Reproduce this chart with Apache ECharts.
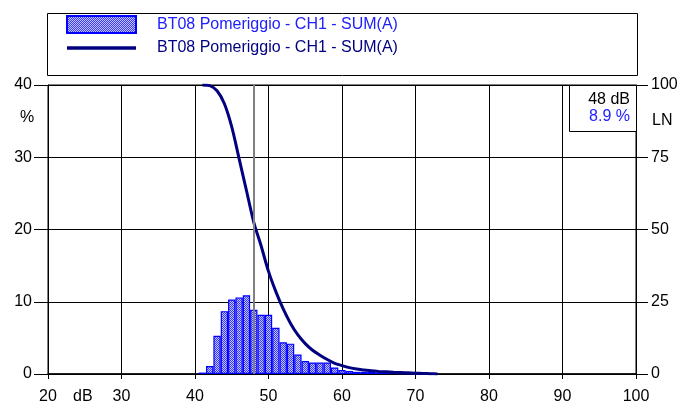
<!DOCTYPE html>
<html><head><meta charset="utf-8">
<script src="https://cdn.jsdelivr.net/npm/echarts@6/dist/echarts.min.js"></script>
<style>html,body{margin:0;padding:0;background:#fff}#c{width:692px;height:410px}</style>
</head><body><div id="c"></div>
<script>
// ---- data ----
const seriesName = 'BT08 Pomeriggio - CH1 - SUM(A)';
const barDb  = [41,42,43,44,45,46,47,48,49,50,51,52,53,54,55,56,57,58,59,60,61,62,63,64,65,66,67,68,69,70,71,72];
const barPct = [0.2,1.1,5.3,8.7,10.3,10.6,10.9,8.9,8.2,8.2,6.4,4.4,4.2,2.7,1.8,1.6,1.6,1.6,0.9,0.55,0.4,0.3,0.3,0.3,0.2,0.2,0.15,0.1,0.1,0.05,0.05,0.02];
const lnDb  = [41,42,43,44,45,46,47,48,49,50,51,52,53,54,55,56,57,58,59,60,61,62,63,64,65,66,67,68,69,70,71,72,73];
const lnVal = [100,99.8,98,93.5,85.5,74.5,63.5,52.5,44.3,35.5,28.5,22.5,17.5,13.5,10.5,8.2,6.5,5,3.7,2.9,2.2,1.7,1.4,1.1,0.9,0.75,0.6,0.5,0.4,0.3,0.2,0.1,0];
const xTicks = [20,30,40,50,60,70,80,90,100];
const leftTicks = [0,10,20,30,40];
const rightTicks = [0,25,50,75,100];
const cursorDb = 48;
const cursorPct = 8.9;

const FONT = 'Liberation Sans, Arial, sans-serif';
const FS = 16;
const pat = document.createElement('canvas'); pat.width = 2; pat.height = 2;
const pc = pat.getContext('2d');
pc.fillStyle = '#c4c4ff'; pc.fillRect(0,0,2,2);
pc.fillStyle = '#3838ff'; pc.fillRect(0,0,1,1); pc.fillRect(1,1,1,1);

const chart = echarts.init(document.getElementById('c'), null, {renderer:'canvas'});
const G = {left:48, right:56, top:85, bottom:36};
chart.setOption({
  animation:false,
  textStyle:{fontFamily:FONT},
  grid:{left:G.left, right:G.right, top:G.top, bottom:G.bottom, show:true, borderColor:'#000', borderWidth:1},
  legend:{
    orient:'vertical', left:61, top:10, itemWidth:69, itemHeight:17, itemGap:6,
    textStyle:{fontFamily:FONT, fontSize:FS, padding:[0,0,0,16]}, selectedMode:false,
    data:[
      {name:seriesName, icon:'rect', textStyle:{color:'#2020ff'}},
      {name:seriesName+' ', icon:'path://M0,0L69,0L69,3.5L0,3.5Z', itemStyle:{color:'#000080'}, textStyle:{color:'#000080'}}
    ]
  },
  xAxis:{
    type:'value', min:xTicks[0], max:xTicks[xTicks.length-1], interval:10,
    axisLine:{lineStyle:{color:'#000', width:1.5}},
    axisTick:{show:true, length:5, lineStyle:{color:'#000'}},
    axisLabel:{color:'#000', fontSize:FS, fontFamily:FONT, margin:15},
    splitLine:{show:true, lineStyle:{color:'#000', width:1}}
  },
  yAxis:[{
    type:'value', min:leftTicks[0], max:leftTicks[leftTicks.length-1], interval:10, position:'left',
    axisLine:{show:true, lineStyle:{color:'#000'}},
    axisTick:{show:true, length:14, lineStyle:{color:'#000'}},
    axisLabel:{color:'#000', fontSize:FS, fontFamily:FONT, margin:16},
    splitLine:{show:true, lineStyle:{color:'#000', width:1}}
  },{
    type:'value', min:rightTicks[0], max:rightTicks[rightTicks.length-1], interval:25, position:'right',
    axisLine:{show:true, lineStyle:{color:'#000'}},
    axisTick:{show:true, length:12, lineStyle:{color:'#000'}},
    axisLabel:{color:'#000', fontSize:FS, fontFamily:FONT, margin:15},
    splitLine:{show:false}
  }],
  series:[{
    name:seriesName, type:'bar', yAxisIndex:0, barWidth:'100%',
    data:barDb.map((d,i)=>[d,barPct[i]]),
    itemStyle:{color:{image:pat, repeat:'repeat'}, borderColor:'#0000ff', borderWidth:1.2},
    markLine:{silent:true, symbol:'none', label:{show:false},
      lineStyle:{color:'#808080', width:2, type:'solid'},
      data:[{xAxis:cursorDb}]}
  },{
    name:seriesName+' ', type:'line', yAxisIndex:1, symbol:'none', smooth:0.3,
    data:lnDb.map((d,i)=>[d,lnVal[i]]),
    lineStyle:{color:'#000080', width:3}, itemStyle:{color:'#000080'}
  }],
  graphic:[
    {type:'rect', shape:{x:47.5, y:13.5, width:590, height:62}, style:{fill:'none', stroke:'#000', lineWidth:1}, z:-1},
    {type:'rect', shape:{x:569.5, y:85.5, width:67, height:46}, style:{fill:'#fff', stroke:'#000', lineWidth:1}, z:10},
    {type:'text', x:630, y:92, style:{text:cursorDb+' dB', fill:'#000', font:FS+'px '+FONT, textAlign:'right'}, z:11},
    {type:'text', x:630, y:109, style:{text:cursorPct+' %', fill:'#2020ff', font:FS+'px '+FONT, textAlign:'right'}, z:11},
    {type:'text', x:20, y:110, style:{text:'%', fill:'#000', font:FS+'px '+FONT}},
    {type:'text', x:652, y:113, style:{text:'LN', fill:'#000', font:FS+'px '+FONT}},
    {type:'text', x:73, y:389, style:{text:'dB', fill:'#000', font:FS+'px '+FONT}}
  ]
});
</script></body></html>
